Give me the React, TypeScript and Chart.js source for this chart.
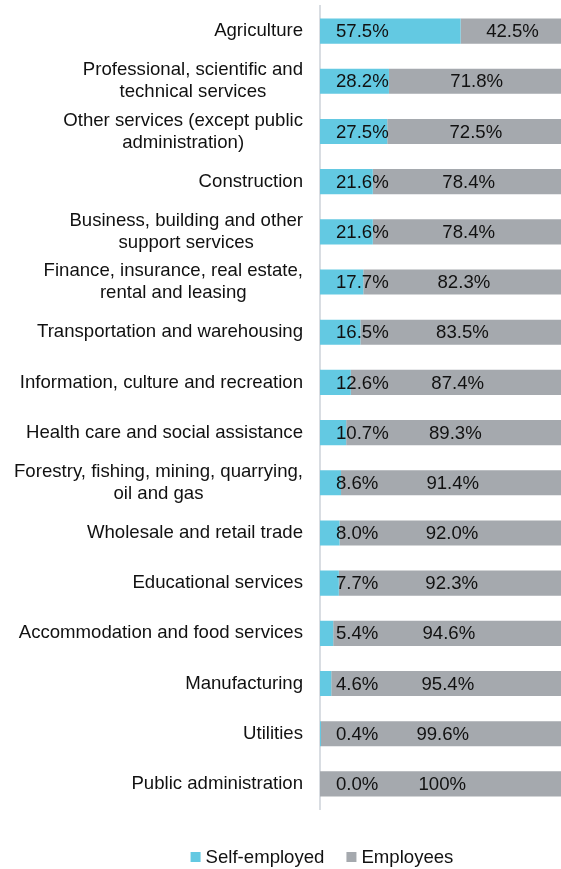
import React, { useEffect, useRef } from 'react';
import { Chart, registerables } from 'chart.js';
Chart.register(...registerables);

const categories: (string | string[])[] = [
  'Agriculture',
  ['Professional, scientific and', 'technical services'],
  ['Other services (except public', 'administration)'],
  'Construction',
  ['Business, building and other', 'support services'],
  ['Finance, insurance, real estate,', 'rental and leasing'],
  'Transportation and warehousing',
  'Information, culture and recreation',
  'Health care and social assistance',
  ['Forestry, fishing, mining, quarrying,', 'oil and gas'],
  'Wholesale and retail trade',
  'Educational services',
  'Accommodation and food services',
  'Manufacturing',
  'Utilities',
  'Public administration',
];

const selfEmployed: number[] = [57.5, 28.2, 27.5, 21.6, 21.6, 17.7, 16.5, 12.6, 10.7, 8.6, 8.0, 7.7, 5.4, 4.6, 0.4, 0.0];
const employees: number[] = [42.5, 71.8, 72.5, 78.4, 78.4, 82.3, 83.5, 87.4, 89.3, 91.4, 92.0, 92.3, 94.6, 95.4, 99.6, 100];

const seriesNames = ['Self-employed', 'Employees'];
const seriesColors = ['#63C9E2', '#A5A9AE'];

const FONT = '18.6px "Liberation Sans", Arial, sans-serif';
const TEXT = '#111111';

const fmt = (v: number) => (v === 100 ? '100%' : v.toFixed(1) + '%');

const textPlugin = {
  id: 'customText',
  afterDraw(chart: any) {
    const ctx = chart.ctx as CanvasRenderingContext2D;
    const area = chart.chartArea;
    const yScale = chart.scales.y;
    ctx.save();
    ctx.font = FONT;
    ctx.fillStyle = TEXT;
    ctx.textBaseline = 'middle';

    // category labels: block right-aligned, lines centered within block
    categories.forEach((lab, i) => {
      const lines = Array.isArray(lab) ? lab : [lab];
      const y = yScale.getPixelForTick(i);
      const bw = Math.max(...lines.map((l) => ctx.measureText(l).width));
      const right = area.left - 17;
      ctx.textAlign = 'center';
      lines.forEach((l, j) => {
        const ly = y + (j - (lines.length - 1) / 2) * 22;
        ctx.fillText(l, right - bw / 2, ly);
      });
    });

    // data labels
    const m0 = chart.getDatasetMeta(0);
    const m1 = chart.getDatasetMeta(1);
    m0.data.forEach((bar: any, i: number) => {
      ctx.textAlign = 'left';
      ctx.fillText(fmt(selfEmployed[i]), area.left + 16, bar.y + 1);
    });
    m1.data.forEach((bar: any, i: number) => {
      ctx.textAlign = 'center';
      ctx.fillText(fmt(employees[i]), (bar.x + bar.base) / 2, bar.y + 1);
    });

    // legend
    const box = 10;
    const gapBox = 5;
    const gapItem = 22;
    const widths = seriesNames.map((n) => ctx.measureText(n).width);
    const total = widths.reduce((a, w) => a + box + gapBox + w, 0) + gapItem * (seriesNames.length - 1);
    let x = 322 - total / 2;
    const ly = 857;
    seriesNames.forEach((n, i) => {
      ctx.fillStyle = seriesColors[i];
      ctx.fillRect(x, ly - box / 2, box, box);
      ctx.fillStyle = TEXT;
      ctx.textAlign = 'left';
      ctx.fillText(n, x + box + gapBox, ly + 1);
      x += box + gapBox + widths[i] + gapItem;
    });
    ctx.restore();
  },
};

export default function App() {
  const ref = useRef<HTMLCanvasElement | null>(null);
  useEffect(() => {
    if (!ref.current) return;
    const chart = new Chart(ref.current, {
      type: 'bar',
      data: {
        labels: categories.map((c) => (Array.isArray(c) ? c.join(' ') : c)),
        datasets: [
          { label: seriesNames[0], data: selfEmployed, backgroundColor: seriesColors[0], borderWidth: 0 },
          { label: seriesNames[1], data: employees, backgroundColor: seriesColors[1], borderWidth: 0 },
        ],
      },
      options: {
        indexAxis: 'y',
        responsive: false,
        animation: false,
        devicePixelRatio: 1,
        layout: { padding: { top: 6, bottom: 60, left: 0, right: 1.5 } },
        datasets: { bar: { categoryPercentage: 1, barPercentage: 0.5 } },
        plugins: { legend: { display: false }, tooltip: { enabled: false } },
        scales: {
          x: { stacked: true, min: 0, max: 100, display: false },
          y: {
            stacked: true,
            grid: { display: false },
            border: { display: true, color: '#D9DDE2', width: 2 },
            ticks: { display: false },
            afterFit: (s: any) => {
              s.width = 320;
            },
          },
        },
      },
      plugins: [textPlugin],
    });
    return () => chart.destroy();
  }, []);
  return (
    <div style={{ position: 'absolute', left: 0, top: 0, width: 561, height: 869, overflow: 'hidden', background: '#fff' }}>
      <canvas ref={ref} width={566} height={869} style={{ display: 'block', width: 566, height: 869 }} />
    </div>
  );
}
